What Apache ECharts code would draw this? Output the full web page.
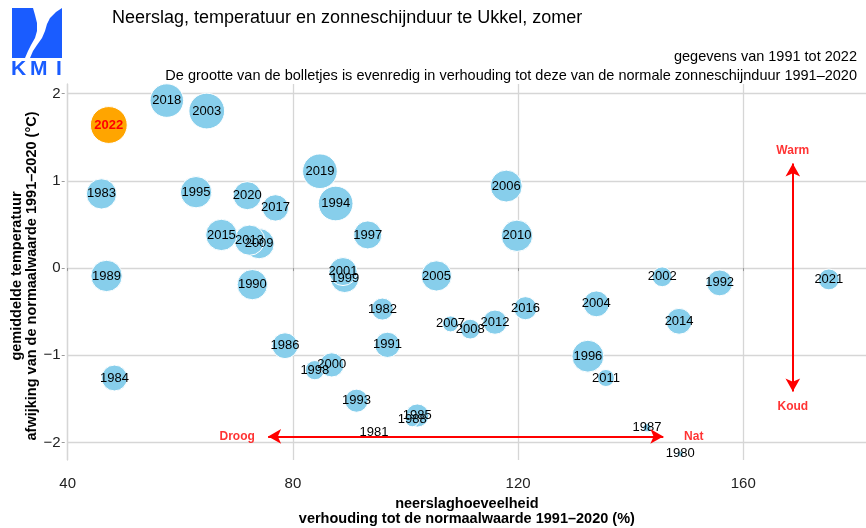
<!DOCTYPE html>
<html>
<head>
<meta charset="utf-8">
<script src="https://cdn.jsdelivr.net/npm/echarts@6/dist/echarts.min.js"></script>
<style>
  html, body { margin: 0; padding: 0; background: #fff; }
  #chart { width: 866px; height: 528px; }
</style>
</head>
<body>
<div id="chart"></div>
<script>
// summer values, Ukkel
const years = [1980, 1981, 1982, 1983, 1984, 1985, 1986, 1987, 1988, 1989,
  1990, 1991, 1992, 1993, 1994, 1995, 1996, 1997, 1998, 1999,
  2000, 2001, 2002, 2003, 2004, 2005, 2006, 2007, 2008, 2009,
  2010, 2011, 2012, 2013, 2014, 2015, 2016, 2017, 2018, 2019,
  2020, 2021, 2022]
// precipitation, % of normal 1991-2020
const precip = [148.8, 94.4, 95.9, 46.0, 48.3, 102.1, 78.6, 142.9, 101.2, 46.9,
  72.8, 96.8, 155.8, 91.3, 87.6, 62.8, 132.4, 93.3, 83.9, 89.2,
  86.9, 88.9, 145.6, 64.7, 133.9, 105.5, 117.9, 108.0, 111.5, 74.0,
  119.8, 135.6, 115.9, 72.3, 148.6, 67.3, 121.3, 76.9, 57.6, 84.8,
  71.9, 175.2, 47.3]
// temperature anomaly, degC
const tempAnom = [-2.13, -1.88, -0.47, 0.85, -1.26, -1.69, -0.89, -1.83, -1.74, -0.09,
  -0.19, -0.88, -0.17, -1.52, 0.74, 0.87, -1.01, 0.38, -1.17, -0.12,
  -1.11, -0.04, -0.10, 1.80, -0.41, -0.09, 0.94, -0.64, -0.70, 0.28,
  0.37, -1.26, -0.62, 0.32, -0.61, 0.38, -0.46, 0.69, 1.92, 1.11,
  0.83, -0.13, 1.64]
// sunshine duration, % of normal
const sunshine = [71, 61, 100, 115, 107, 102, 107, 75, 85, 117,
  115, 106, 107, 102, 123, 117, 118, 111, 95, 111,
  104, 111, 96, 125, 107, 115, 118, 89, 96, 115,
  117, 91, 104, 115, 107, 117, 102, 108, 121, 123,
  111, 98, 127]
const xTicks = [40, 80, 120, 160]
const yTicks = [-2, -1, 0, 1, 2]

const lastYear = 2022
const font = '"Liberation Sans", Arial, sans-serif'
const kmiBlue = '#1a5cff'
const gridColor = '#d6d6d6'
const yMin = -2.2
const yMax = 2.11

let points = years.map((y, i) => {
  let p = {
    value: [precip[i], tempAnom[i], sunshine[i], y]
  }
  if (y === lastYear) {
    p.itemStyle = { color: '#ffa500' }
    p.label = { color: '#ff0000', fontWeight: 'bold' }
  }
  return p
})

const annotations = [
  [70.1, -1.93, 'Droog'],
  [151.2, -1.93, 'Nat'],
  [168.8, 1.35, 'Warm'],
  [168.8, -1.59, 'Koud']
]

function minus(v) {
  return v < 0 ? '\u2212' + Math.abs(v) : String(v)
}

let chart = echarts.init(document.getElementById('chart'))
chart.setOption({
  animation: false,
  textStyle: { fontFamily: font },
  title: {
    text: 'Neerslag, temperatuur en zonneschijnduur te Ukkel, zomer',
    left: 112,
    top: 9,
    padding: 0,
    textStyle: { fontSize: 18, fontWeight: 'normal', color: '#000', fontFamily: font }
  },
  graphic: [
    // KMI logo
    {
      type: 'polygon',
      shape: { points: [[12, 8], [33, 8], [35, 15], [37, 23], [37, 31], [35, 38], [31, 45], [28, 51], [25, 58], [12, 58]] },
      style: { fill: kmiBlue }
    },
    {
      type: 'polygon',
      shape: { points: [[62, 8], [62, 58], [30, 58], [33, 51], [37, 45], [42, 38], [45, 31], [47, 24], [50, 18], [56, 12]] },
      style: { fill: kmiBlue }
    },
    {
      type: 'text', left: 11, top: 59,
      style: { text: 'K', fontSize: 21, fontWeight: 'bold', fontFamily: font, fill: kmiBlue }
    },
    {
      type: 'text', left: 30, top: 59,
      style: { text: 'M', fontSize: 21, fontWeight: 'bold', fontFamily: font, fill: kmiBlue }
    },
    {
      type: 'text', left: 56, top: 59,
      style: { text: 'I', fontSize: 21, fontWeight: 'bold', fontFamily: font, fill: kmiBlue }
    },
    {
      type: 'text', right: 9, top: 49,
      style: { text: 'gegevens van 1991 tot 2022', fontSize: 14.5, fontFamily: font, fill: '#000' }
    },
    {
      type: 'text', right: 9, top: 68,
      style: {
        text: 'De grootte van de bolletjes is evenredig in verhouding tot deze van de normale zonneschijnduur 1991\u20132020',
        fontSize: 14.5, fontFamily: font, fill: '#000'
      }
    }
  ],
  grid: {
    left: 67.7,
    right: 0,
    top: 84,
    bottom: 68,
    outerBoundsMode: 'none',
    containLabel: false
  },
  xAxis: {
    type: 'value',
    min: 40,
    max: 181.8,
    offset: 12,
    name: 'neerslaghoeveelheid\nverhouding tot de normaalwaarde 1991\u20132020 (%)',
    nameLocation: 'middle',
    nameGap: 20,
    nameTextStyle: { fontSize: 14.5, fontWeight: 'bold', color: '#000', lineHeight: 15.5, fontFamily: font },
    axisLine: { show: false },
    axisTick: { show: true, length: 3, customValues: xTicks, lineStyle: { color: '#999' } },
    axisLabel: { customValues: xTicks, fontSize: 15, color: '#222', margin: 4 },
    splitLine: { show: true, showMinLine: true, lineStyle: { color: gridColor, width: 1.3 } }
  },
  yAxis: [
    {
      type: 'value',
      min: yMin,
      max: yMax,
      offset: 3,
      name: 'gemiddelde temperatuur\nafwijking van de normaalwaarde 1991\u20132020 (\u00b0C)',
      nameLocation: 'middle',
      nameGap: 25,
      nameMoveOverlap: false,
      nameTextStyle: {
        fontSize: 14.5, fontWeight: 'bold', color: '#000', lineHeight: 15, fontFamily: font,
        padding: [0, 8, 0, 0]
      },
      axisLine: { show: false },
      axisTick: { show: true, length: 3, customValues: yTicks, lineStyle: { color: '#999' } },
      axisLabel: { customValues: yTicks, fontSize: 15, color: '#222', margin: 4, formatter: minus },
      splitLine: { show: true, lineStyle: { color: gridColor, width: 1.3 } }
    },
    {
      // only draws the gridline at 40 %, on the left edge of the panel
      type: 'value',
      position: 'left',
      min: yMin,
      max: yMax,
      offset: 0,
      axisLine: { show: true, onZero: false, lineStyle: { color: gridColor, width: 1.3 } },
      axisTick: { show: false },
      axisLabel: { show: false },
      splitLine: { show: false }
    }
  ],
  series: [
    {
      name: 'jaren',
      type: 'scatter',
      data: points,
      z: 3,
      // bubble diameter grows with the sunshine ratio
      symbolSize: (d) => Math.max((d[2] - 60) * 0.55, 0),
      itemStyle: { color: '#87ceeb', borderColor: '#fff', borderWidth: 1, opacity: 1 },
      label: {
        show: true,
        position: 'inside',
        formatter: (p) => p.value[3],
        fontSize: 13,
        color: '#000',
        fontFamily: font
      },
      emphasis: { disabled: true },
      markLine: {
        silent: true,
        symbol: ['arrow', 'arrow'],
        symbolSize: [11, 13],
        label: { show: false },
        lineStyle: { color: '#ff0000', width: 2, type: 'solid' },
        data: [
          [{ coord: [75.6, -1.93] }, { coord: [145.8, -1.93] }],
          [{ coord: [168.8, 1.2] }, { coord: [168.8, -1.415] }]
        ]
      }
    },
    {
      name: 'annot',
      type: 'scatter',
      data: annotations,
      symbolSize: 0,
      silent: true,
      z: 1,
      label: {
        show: true,
        position: 'inside',
        formatter: (p) => p.value[2],
        fontSize: 12,
        fontWeight: 'bold',
        color: '#ff0000',
        fontFamily: font
      }
    }
  ]
})
</script>
</body>
</html>
